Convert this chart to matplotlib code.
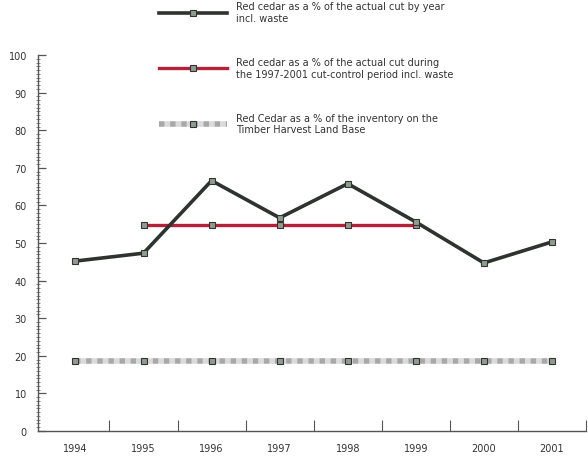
import numpy as np
import matplotlib as mpl
import matplotlib.pyplot as plt

mpl.rcParams.update({
    "font.family": ["DejaVu Sans"],
    "font.size": 7,
    "text.color": "#333333",
    "axes.edgecolor": "#555555",
    "xtick.color": "#555555",
    "ytick.color": "#555555",
    "xtick.labelcolor": "#333333",
    "ytick.labelcolor": "#333333",
})

# ---- data ----
years = ["1994", "1995", "1996", "1997", "1998", "1999", "2000", "2001"]
cut_by_year = [45.2, 47.3, 66.6, 56.7, 65.8, 55.6, 44.7, 50.3]
cut_period_years = ["1995", "1996", "1997", "1998", "1999"]
cut_period = [54.8, 54.8, 54.8, 54.8, 54.8]
inventory = [18.6, 18.6, 18.6, 18.6, 18.6, 18.6, 18.6, 18.6]

labels = [
    "Red cedar as a % of the actual cut by year\nincl. waste",
    "Red cedar as a % of the actual cut during\nthe 1997-2001 cut-control period incl. waste",
    "Red Cedar as a % of the inventory on the\nTimber Harvest Land Base",
]

x = np.arange(len(years))
x_period = np.array([years.index(y) for y in cut_period_years])

fig = plt.figure(figsize=(5.88, 4.6), dpi=100)
ax = fig.add_axes([0.0646, 0.061, 0.932, 0.817])

mk = dict(marker="s", markersize=4.5, markerfacecolor="#8f9c8f",
          markeredgecolor="#333333", markeredgewidth=0.8)

l1, = ax.plot(x, cut_by_year, color="#2f332f", lw=2.6, zorder=4, **mk)
l2, = ax.plot(x_period, cut_period, color="#b5213b", lw=2.4, zorder=3, **mk)
l3, = ax.plot(x, inventory, color="#a8a8a8", gapcolor="#dadada",
              ls=(0, (1, 1)), lw=4, zorder=2, **mk)

ax.set_xlim(-0.55, 7.5)
ax.set_ylim(0, 100)

ax.set_xticks(x)
ax.set_xticklabels(years)
ax.set_xticks(x + 0.5, minor=True)
ax.tick_params(axis="x", which="major", length=0, pad=9)
ax.tick_params(axis="x", which="minor", direction="in", length=8, width=0.8)

ax.set_yticks(np.arange(0, 101, 10))
ax.set_yticks(np.arange(0, 101, 1), minor=True)
ax.tick_params(axis="y", which="major", direction="in", length=6, width=0.9, pad=8)
ax.tick_params(axis="y", which="minor", direction="inout", length=3, width=0.5)

for s in ("top", "right"):
    ax.spines[s].set_visible(False)
ax.spines["left"].set_linewidth(1.0)
ax.spines["bottom"].set_linewidth(1.0)

fig.legend([l1, l2, l3], labels, loc="upper left",
           bbox_to_anchor=(0.27, 0.995), frameon=False, fontsize=7,
           handlelength=7, handletextpad=0.9, labelspacing=3.5,
           borderpad=0, borderaxespad=0)

fig.savefig("out.png", dpi=100)
